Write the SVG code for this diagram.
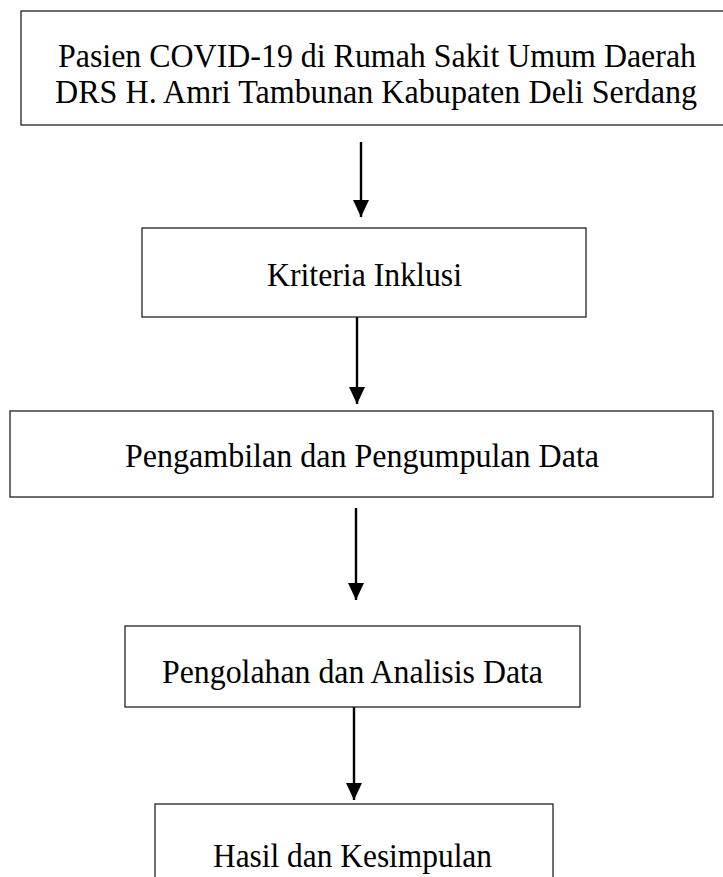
<svg xmlns="http://www.w3.org/2000/svg" width="723" height="877" viewBox="0 0 723 877">
<style>
  .box { fill: #fff; stroke: #222; stroke-width: 1.3; }
  .lbl { font-family: "Liberation Serif", "Times New Roman", serif; font-size: 33px; fill: #000; text-anchor: middle; }
  .arr { stroke: #000; stroke-width: 2.4; fill: none; }
</style>
<defs>
  <marker id="ah" viewBox="0 0 17 16" refX="17" refY="8" markerWidth="17" markerHeight="16" markerUnits="userSpaceOnUse" orient="auto">
    <path d="M0,0 L17,8 L0,16 z" fill="#000"/>
  </marker>
</defs>
<rect width="723" height="877" fill="#fff"/>
<g id="connectors">
  <path class="arr" d="M361,142 V217" marker-end="url(#ah)"/>
  <path class="arr" d="M357,317 V404" marker-end="url(#ah)"/>
  <path class="arr" d="M356,508 V600" marker-end="url(#ah)"/>
  <path class="arr" d="M354,707 V800" marker-end="url(#ah)"/>
</g>
<g id="node1">
  <rect class="box" x="21" y="11" width="720" height="114"/>
  <text class="lbl" x="377" y="67" textLength="638" lengthAdjust="spacingAndGlyphs">Pasien COVID-19 di Rumah Sakit Umum Daerah</text>
  <text class="lbl" x="376" y="103" textLength="642" lengthAdjust="spacingAndGlyphs">DRS H. Amri Tambunan Kabupaten Deli Serdang</text>
</g>
<g id="node2">
  <rect class="box" x="142" y="228" width="444" height="89"/>
  <text class="lbl" x="364.5" y="286" textLength="195" lengthAdjust="spacingAndGlyphs">Kriteria Inklusi</text>
</g>
<g id="node3">
  <rect class="box" x="10" y="411" width="703" height="86"/>
  <text class="lbl" x="362" y="467" textLength="474" lengthAdjust="spacingAndGlyphs">Pengambilan dan Pengumpulan Data</text>
</g>
<g id="node4">
  <rect class="box" x="125" y="626" width="455" height="81"/>
  <text class="lbl" x="352.5" y="683" textLength="381" lengthAdjust="spacingAndGlyphs">Pengolahan dan Analisis Data</text>
</g>
<g id="node5">
  <rect class="box" x="155" y="804" width="398" height="80"/>
  <text class="lbl" x="352.5" y="867" textLength="279" lengthAdjust="spacingAndGlyphs">Hasil dan Kesimpulan</text>
</g>
</svg>
